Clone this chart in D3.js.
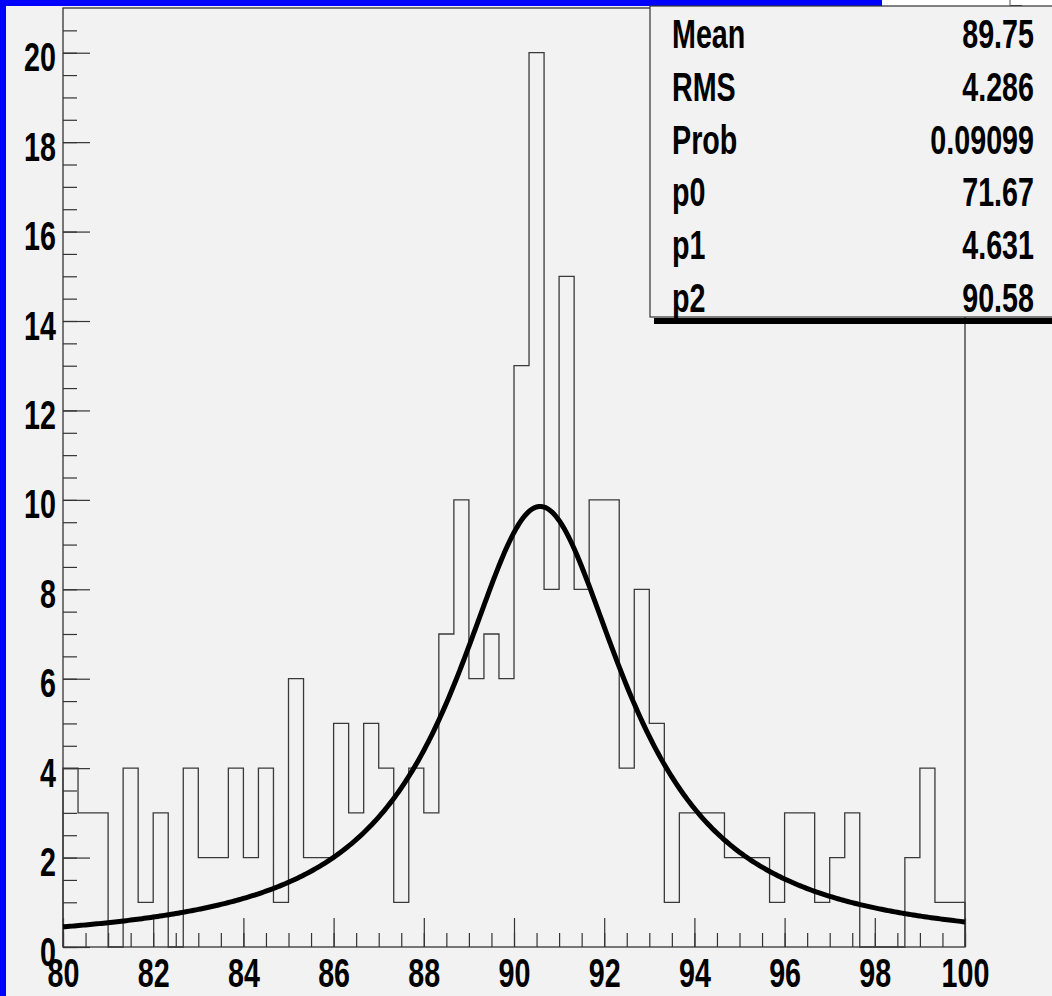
<!DOCTYPE html>
<html>
<head>
<meta charset="utf-8">
<script src="https://cdn.jsdelivr.net/npm/d3@7"></script>
<style>
  body { margin: 0; background: #f2f2f2; }
  svg { display: block; }
  text { font-family: "Liberation Sans", Arial, sans-serif; font-weight: bold; fill: #000; }
</style>
</head>
<body>
<div id="chart"></div>
<script>
// Histogram contents: 60 bins between 80 and 100
const xRange = [80, 100];
const counts = [
  4, 3, 3, 0, 4, 1, 3, 0, 4, 2,
  2, 4, 2, 4, 1, 6, 2, 2, 5, 3,
  5, 4, 1, 4, 3, 7, 10, 6, 7, 6,
  13, 20, 8, 15, 8, 10, 10, 4, 8, 5,
  1, 3, 3, 3, 2, 2, 2, 1, 3, 3,
  1, 2, 3, 0, 0, 0, 2, 4, 1, 1
];

// Axis tick labels
const xTicks = [80, 82, 84, 86, 88, 90, 92, 94, 96, 98, 100];
const yTicks = [0, 2, 4, 6, 8, 10, 12, 14, 16, 18, 20];

// Stats box
const statNames = ["Mean", "RMS", "Prob", "p0", "p1", "p2"];
const statValues = ["89.75", "4.286", "0.09099", "71.67", "4.631", "90.58"];

// Fit parameters (Breit-Wigner): p0 * BW(x; mean = p2, gamma = p1)
const fitParams = [71.67, 4.631, 90.58];

const W = 1052, H = 996;
const svg = d3.select("#chart").append("svg")
  .attr("width", W)
  .attr("height", H);

// pad background + blue canvas edges
svg.append("rect").attr("width", W).attr("height", H).attr("fill", "#f2f2f2");
svg.append("rect").attr("x", 0).attr("y", 0).attr("width", W).attr("height", 6).attr("fill", "#0000ff");
svg.append("rect").attr("x", 0).attr("y", 0).attr("width", 6).attr("height", H).attr("fill", "#0000ff");
svg.append("rect").attr("x", 882).attr("y", 0).attr("width", W - 882).attr("height", 6).attr("fill", "#ffffff");
svg.append("path").attr("d", "M1010,0V5.5H1022").attr("fill", "none").attr("stroke", "#555").attr("stroke-width", 1);

const x = d3.scaleLinear().domain(xRange).range([63, 965]);
const y = d3.scaleLinear().domain([0, 21]).range([947, 8]);

// frame
svg.append("rect")
  .attr("x", x(80)).attr("y", y(21))
  .attr("width", x(100) - x(80)).attr("height", y(0) - y(21))
  .attr("fill", "#f2f2f2")
  .attr("stroke", "#333").attr("stroke-width", 1.3);

const textScale = 0.7;

// x axis: minor + major
const xMinor = d3.range(80, 100.01, 0.5);
svg.append("g")
  .attr("transform", `translate(0,${y(0)})`)
  .call(d3.axisBottom(x).tickValues(xMinor).tickSize(-14).tickSizeOuter(0).tickFormat(""))
  .call(g => g.select(".domain").remove())
  .call(g => g.selectAll("line").attr("stroke", "#333").attr("stroke-width", 1.2));

const xAxis = svg.append("g")
  .attr("transform", `translate(0,${y(0)})`)
  .call(d3.axisBottom(x).tickValues(xTicks).tickSize(-29).tickSizeOuter(0).tickPadding(0).tickFormat(d3.format("d")))
  .call(g => g.select(".domain").remove());
xAxis.selectAll("line").attr("stroke", "#333").attr("stroke-width", 1.2);
xAxis.selectAll("text")
  .attr("y", null).attr("dy", null)
  .attr("transform", `translate(0,40) scale(${textScale},1)`)
  .style("font-size", "41px")
  .attr("fill", "#000");

// y axis: minor + major
const yMinor = d3.range(0, 21, 0.5);
svg.append("g")
  .attr("transform", `translate(${x(80)},0)`)
  .call(d3.axisLeft(y).tickValues(yMinor).tickSize(-14).tickSizeOuter(0).tickFormat(""))
  .call(g => g.select(".domain").remove())
  .call(g => g.selectAll("line").attr("stroke", "#333").attr("stroke-width", 1.2));

const yAxis = svg.append("g")
  .attr("transform", `translate(${x(80)},0)`)
  .call(d3.axisLeft(y).tickValues(yTicks).tickSize(-27).tickSizeOuter(0).tickPadding(0).tickFormat(d3.format("d")))
  .call(g => g.select(".domain").remove());
yAxis.selectAll("line").attr("stroke", "#333").attr("stroke-width", 1.2);
yAxis.selectAll("text")
  .attr("x", null).attr("dy", null)
  .attr("transform", `translate(-7,18) scale(${textScale},1)`)
  .style("font-size", "41px")
  .attr("fill", "#000");

// histogram outline
const binWidth = (xRange[1] - xRange[0]) / counts.length;
const steps = [[xRange[0], 0]];
counts.forEach((c, i) => {
  const x0 = xRange[0] + i * binWidth;
  steps.push([x0, c], [x0 + binWidth, c]);
});
steps.push([xRange[1], 0]);

svg.append("path")
  .datum(steps)
  .attr("fill", "none")
  .attr("stroke", "#3a3a3a")
  .attr("stroke-width", 1.3)
  .attr("d", d3.line().x(d => x(d[0])).y(d => y(d[1])));

// fit curve
const [p0, p1, p2] = fitParams;
const bw = v => p0 * (p1 / (2 * Math.PI)) / ((v - p2) * (v - p2) + p1 * p1 / 4);
const fitPts = d3.range(80, 100.0001, 0.05).map(v => [v, bw(v)]);
svg.append("path")
  .datum(fitPts)
  .attr("fill", "none")
  .attr("stroke", "#000")
  .attr("stroke-width", 5)
  .attr("d", d3.line().x(d => x(d[0])).y(d => y(d[1])));

// stats box with shadow
svg.append("rect").attr("x", 654).attr("y", 318).attr("width", W - 654).attr("height", 6).attr("fill", "#000");
svg.append("rect")
  .attr("x", 650).attr("y", 6)
  .attr("width", W - 650 + 10).attr("height", 311)
  .attr("fill", "#f2f2f2")
  .attr("stroke", "#333").attr("stroke-width", 1.2);

const rowY = d3.scaleLinear().domain([0, statNames.length - 1]).range([48, 312]);
const stats = svg.append("g");
stats.selectAll("text.name")
  .data(statNames)
  .join("text")
  .attr("class", "name")
  .attr("transform", (d, i) => `translate(672,${rowY(i)}) scale(${textScale},1)`)
  .style("font-size", "41px")
  .text(d => d);
stats.selectAll("text.val")
  .data(statValues)
  .join("text")
  .attr("class", "val")
  .attr("text-anchor", "end")
  .attr("transform", (d, i) => `translate(1034,${rowY(i)}) scale(${textScale},1)`)
  .style("font-size", "41px")
  .text(d => d);
</script>
</body>
</html>
